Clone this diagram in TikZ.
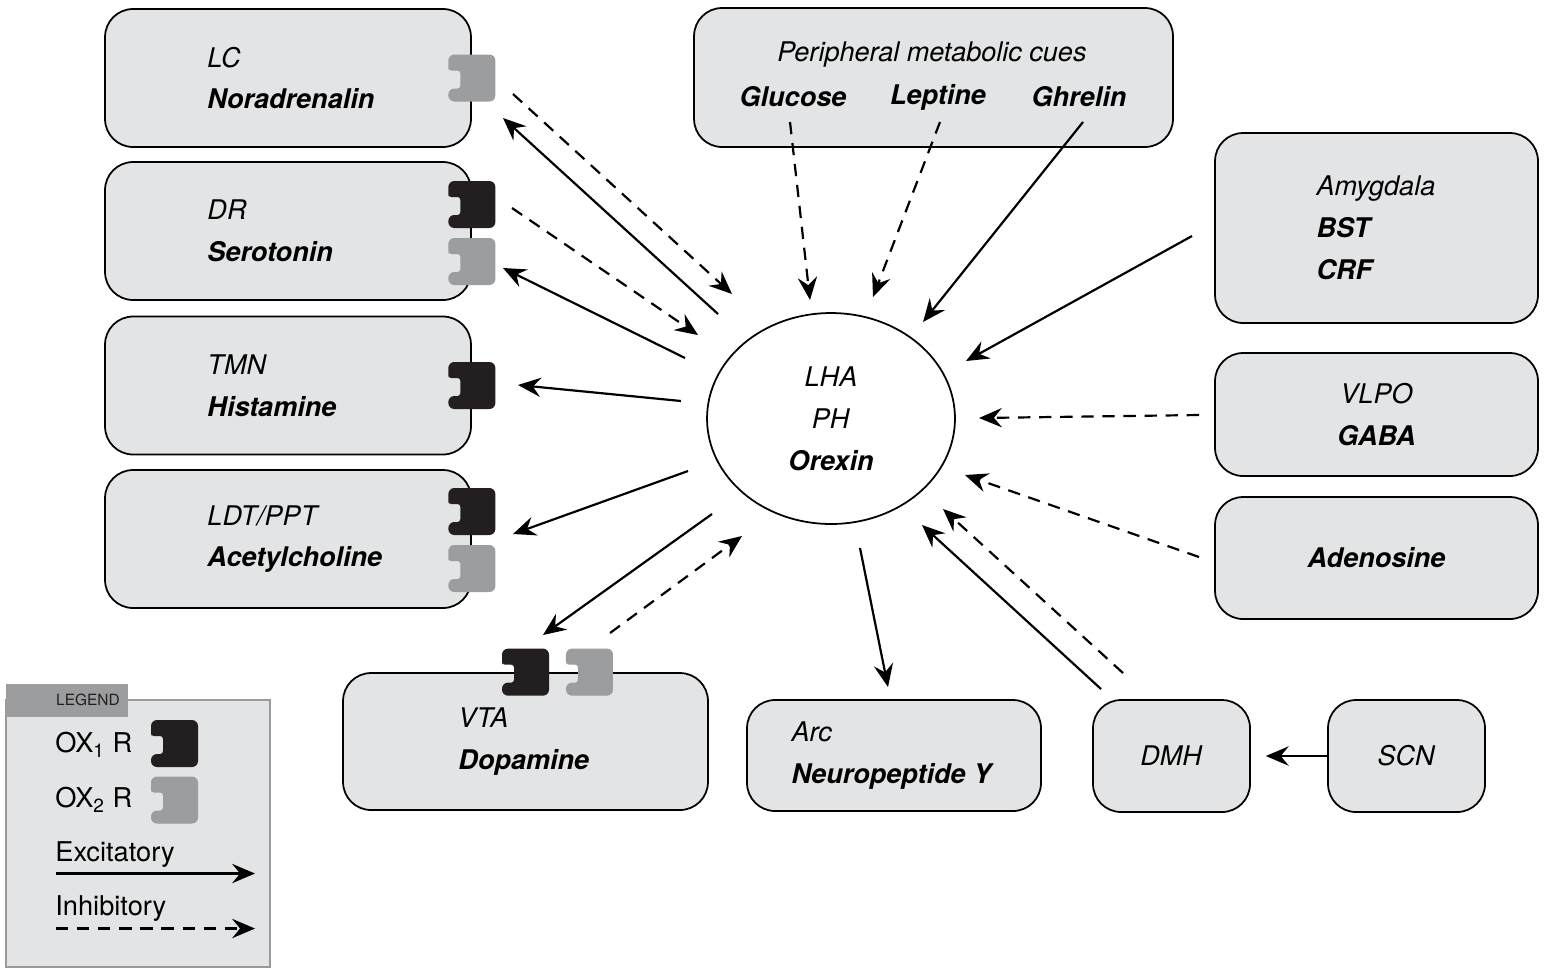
\documentclass[tikz,border=0pt]{standalone}
\usepackage{fontspec}
\setmainfont{TeX Gyre Heros}
\usetikzlibrary{positioning,shapes.geometric,arrows.meta}

\definecolor{boxfill}{HTML}{E3E4E5}
\definecolor{oxone}{HTML}{231F20}
\definecolor{oxtwo}{HTML}{9C9D9E}
\definecolor{legframe}{HTML}{9A9A9A}

\newcommand{\area}[1]{\textit{#1}}
\newcommand{\transm}[1]{\textbf{\textit{#1}}}

\begin{document}
\begin{tikzpicture}[x=0.02cm, y=-0.02cm,
  font=\fontsize{15.4}{23.8}\selectfont,
  box/.style={draw, line width=1pt, fill=boxfill, rounded corners=0.56cm, align=center},
  leftbox/.style={box, minimum width=7.32cm, minimum height=2.76cm},
  lbl/.style={inner sep=0pt, align=left},
  exc/.style={line width=1.25pt, -{Stealth[length=13pt,width=11pt,inset=4.5pt]}},
  inh/.style={exc, dash pattern=on 7pt off 5pt},
  receptor/.pic={
    \path[pic actions, rounded corners=3.4pt] (-23.5,-7.5) -- (-23.5,-23.5) -- (23.5,-23.5)
      -- (23.5,23.5) -- (-23.5,23.5) -- (-23.5,10.5) [rounded corners=1.6pt] -- (-11.5,10.5)
      -- (-11.5,-7.5) -- (-23.5,-7.5) [sharp corners] -- cycle;
  }]
\useasboundingbox (0,0) rectangle (1547,975);
%
\node[leftbox] (lc) at (288,78) {};
\node[leftbox] (dr) at (288,231) {};
\node[leftbox] (tmn) at (288,385.5) {};
\node[leftbox] (ldt) at (288,539) {};
\node[lbl, right=2.06cm of lc.west] {\area{LC}\\\transm{Noradrenalin}};
\node[lbl, right=2.06cm of dr.west] {\area{DR}\\\transm{Serotonin}};
\node[lbl, right=2.06cm of tmn.west] {\area{TMN}\\\transm{Histamine}};
\node[lbl, right=2.06cm of ldt.west] {\area{LDT/PPT}\\\transm{Acetylcholine}};
\pic[fill=oxtwo] at (lc.east) {receptor};
\pic[fill=oxone] at ([yshift=0.53cm]dr.east) {receptor};
\pic[fill=oxtwo] at ([yshift=-0.61cm]dr.east) {receptor};
\pic[fill=oxone] at (tmn.east) {receptor};
\pic[fill=oxone] at ([yshift=0.55cm]ldt.east) {receptor};
\pic[fill=oxtwo] at ([yshift=-0.59cm]ldt.east) {receptor};
%
\node[box, minimum width=7.3cm, minimum height=2.74cm] (vta) at (525.5,741.5) {};
\node[lbl, right=2.32cm of vta.west] {\area{VTA}\\\transm{Dopamine}};
\pic[fill=oxone] at (vta.north) {receptor};
\pic[fill=oxtwo] at ([xshift=1.28cm]vta.north) {receptor};
\node[box, minimum width=5.88cm, minimum height=2.22cm] (arc) at (894,755.5) {};
\node[lbl, right=0.9cm of arc.west] {\area{Arc}\\\transm{Neuropeptide Y}};
\node[box, minimum width=3.14cm, minimum height=2.24cm] (dmh) at (1171.5,756) {\area{DMH}};
\node[box, minimum width=3.14cm, minimum height=2.24cm] (scn) at (1406.5,756) {\area{SCN}};
%
\node[box, minimum width=9.58cm, minimum height=2.78cm] (pmc) at (933.5,77.5) {};
\node[inner sep=0pt] at (932,55) {\area{Peripheral metabolic cues}};
\node[inner sep=0pt] (glu) at (793,97) {\transm{Glucose}};
\node[inner sep=0pt] (lep) at (938,97) {\transm{Leptine}};
\node[inner sep=0pt] (ghr) at (1079,97) {\transm{Ghrelin}};
%
\node[box, minimum width=6.46cm, minimum height=3.8cm] (amy) at (1376.5,228) {};
\node[lbl, right=2.04cm of amy.west] {\area{Amygdala}\\\transm{BST}\\\transm{CRF}};
\node[box, minimum width=6.46cm, minimum height=2.46cm] (vlpo) at (1376.5,414.5) {\area{VLPO}\\\transm{GABA}};
\node[box, minimum width=6.46cm, minimum height=2.44cm] (ado) at (1376.5,558) {\transm{Adenosine}};
%
\node[draw, ellipse, line width=1pt, minimum width=4.96cm, minimum height=4.22cm, align=center]
  (orx) at (831,418.5) {\area{LHA}\\\area{PH}\\\transm{Orexin}};
%
\coordinate (lc-out) at (718,314);   \coordinate (lc-tip) at (503,118);
\coordinate (lc-in) at (513,94);     \coordinate (orx-lc) at (732,294);
\coordinate (dr-in) at (512,208);    \coordinate (orx-dr) at (698,335);
\coordinate (dr-out) at (685,358);   \coordinate (dr-tip) at (503,268);
\coordinate (tmn-out) at (681,401);  \coordinate (tmn-tip) at (518,385);
\coordinate (ldt-out) at (688,471);  \coordinate (ldt-tip) at (513,534);
\coordinate (vta-out) at (712,514);  \coordinate (vta-tip) at (543,635);
\coordinate (vta-in) at (610,633);   \coordinate (orx-vta) at (742,536);
\coordinate (arc-out) at (860,548);  \coordinate (arc-tip) at (888,687);
\coordinate (dmh-ex) at (1101,689);  \coordinate (orx-dmh) at (922,525);
\coordinate (dmh-in) at (1123,673);  \coordinate (orx-dmhi) at (943,509);
\coordinate (ado-in) at (1199,557);  \coordinate (orx-ado) at (965,475);
\coordinate (vlpo-in) at (1199,415); \coordinate (orx-vlpo) at (979,418);
\coordinate (amy-ex) at (1192,236);  \coordinate (orx-amy) at (966,361);
\coordinate (ghr-ex) at (1083,122);  \coordinate (orx-ghr) at (923,322);
\coordinate (lep-in) at (940,122);   \coordinate (orx-lep) at (873,297);
\coordinate (glu-in) at (790,122);   \coordinate (orx-glu) at (810,300);
%
\draw[exc] (lc-out) -- (lc-tip);
\draw[inh] (lc-in) -- (orx-lc);
\draw[inh] (dr-in) -- (orx-dr);
\draw[exc] (dr-out) -- (dr-tip);
\draw[exc] (tmn-out) -- (tmn-tip);
\draw[exc] (ldt-out) -- (ldt-tip);
\draw[exc] (vta-out) -- (vta-tip);
\draw[inh] (vta-in) -- (orx-vta);
\draw[exc] (arc-out) -- (arc-tip);
\draw[exc] (dmh-ex) -- (orx-dmh);
\draw[inh] (dmh-in) -- (orx-dmhi);
\draw[inh] (ado-in) -- (orx-ado);
\draw[inh] (vlpo-in) -- (orx-vlpo);
\draw[exc] (amy-ex) -- (orx-amy);
\draw[exc] (ghr-ex) -- (orx-ghr);
\draw[inh] (lep-in) -- (orx-lep);
\draw[inh] (glu-in) -- (orx-glu);
\draw[exc, shorten >=8.5pt] (scn.west) -- (dmh.east);
%
% legend
\node[draw=legframe, fill=boxfill, line width=0.8pt, minimum width=5.28cm, minimum height=5.34cm]
  (leg) at (138,833.5) {};
\node[fill=oxtwo, minimum width=2.43cm, minimum height=0.65cm, inner sep=0pt] (leghead) at (67,700.5) {};
\node[inner sep=0pt, text=oxone, font=\fontsize{8.8}{10}\selectfont] at (88,700) {LEGEND};
\node[anchor=west, inner sep=0pt, font=\fontsize{15.5}{18}\selectfont] (oxa) at (55,745) {OX\textsubscript{1} R};
\node[anchor=west, inner sep=0pt, font=\fontsize{15.5}{18}\selectfont] (oxb) at (55,800) {OX\textsubscript{2} R};
\pic[fill=oxone] at (174.5,743.5) {receptor};
\pic[fill=oxtwo] at (174.5,800) {receptor};
\node[anchor=west, inner sep=0pt, font=\fontsize{15.5}{18}\selectfont] (excl) at (55,855) {Excitatory};
\node[anchor=west, inner sep=0pt, font=\fontsize{15.5}{18}\selectfont] (inhl) at (55,909) {Inhibitory};
\coordinate (ex-a) at (56,873.5);  \coordinate (ex-b) at (255,873.5);
\coordinate (in-a) at (56,928.5);  \coordinate (in-b) at (255,928.5);
\draw[exc] (ex-a) -- (ex-b);
\draw[inh] (in-a) -- (in-b);
\end{tikzpicture}
\end{document}
